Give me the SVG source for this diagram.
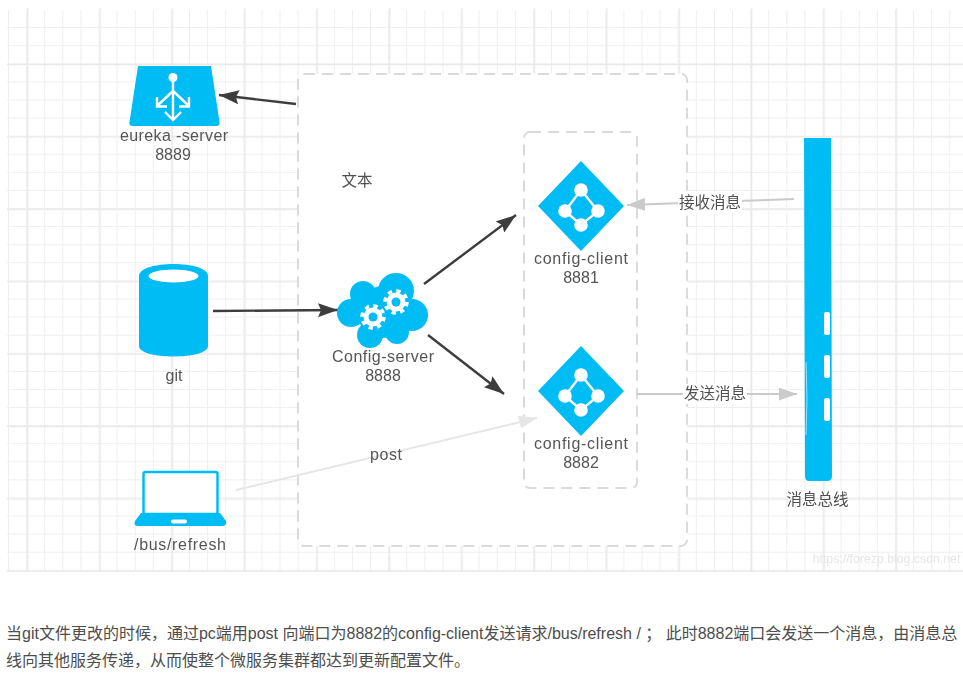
<svg xmlns="http://www.w3.org/2000/svg" width="963" height="673" viewBox="0 0 963 673">
<style>
.lbl{font-family:"Liberation Sans","Noto Sans CJK SC",sans-serif;font-size:16px;fill:#555;text-anchor:middle}
.cn{font-family:"Noto Sans CJK SC","Liberation Sans",sans-serif;font-size:15.5px;fill:#505050;text-anchor:middle}
.para{font-family:"Liberation Sans","Noto Sans CJK SC",sans-serif;font-size:16px;fill:#4d4d4d}
.ic{fill:#00bcf5}
.wl{fill:none;stroke:#fff;stroke-width:2.4}
.wf{fill:#fff}
.dash{fill:none;stroke:#dadada;stroke-width:2;stroke-dasharray:11 7}
.dk{stroke:#3d3d3d;stroke-width:2.4;fill:none}
</style>
<defs>
<filter id="soft" x="-5%" y="-5%" width="110%" height="110%"><feGaussianBlur stdDeviation="0.6"/></filter>
<marker id="ad" viewBox="0 0 10 10" refX="10" refY="5" markerWidth="20" markerHeight="14" markerUnits="userSpaceOnUse" orient="auto" preserveAspectRatio="none"><path d="M0 0L10 5L0 10L1.500 5Z" fill="#3d3d3d"/></marker>
<marker id="ag" viewBox="0 0 10 10" refX="10" refY="5" markerWidth="18" markerHeight="13" markerUnits="userSpaceOnUse" orient="auto" preserveAspectRatio="none"><path d="M0 0L10 5L0 10Z" fill="#cacaca"/></marker>
<marker id="al" viewBox="0 0 10 10" refX="10" refY="5" markerWidth="18" markerHeight="13" markerUnits="userSpaceOnUse" orient="auto" preserveAspectRatio="none"><path d="M0 0L10 5L0 10Z" fill="#e6e6e6"/></marker>
<pattern id="gmin" x="9" y="10" width="18.1" height="18.09" patternUnits="userSpaceOnUse"><path d="M17.6 0V18.09M0 17.6H18.1" fill="none" stroke="#eeeeee" stroke-width="1"/></pattern>
<pattern id="gmaj" x="27" y="64" width="72.4" height="72.4" patternUnits="userSpaceOnUse"><path d="M0.7 0V72.4M0 0.7H72.4" fill="none" stroke="#e9e9e9" stroke-width="1.300"/></pattern>
<g id="gear"><circle r="9.500" fill="#fff"/><circle r="11" fill="none" stroke="#fff" stroke-width="3.500" stroke-dasharray="4.320 4.320"/><circle r="4.500" fill="#00bcf5"/></g>
<g id="diamond">
<path class="ic" d="M0 -45L43 0L0 45L-43 0Z"/>
<path class="wl" d="M0 -16L-16 5L0 19L17 5Z"/>
<circle class="wf" cy="-16" r="6.800"/><circle class="wf" cx="-16" cy="5" r="6.800"/><circle class="wf" cx="17" cy="5" r="6.800"/><circle class="wf" cy="19" r="6.800"/>
</g>
</defs>
<rect width="963" height="673" fill="#fff"/>
<g id="grid">
<rect x="7" y="10" width="956" height="562" fill="url(#gmin)"/>
<rect x="7" y="8" width="956" height="564" fill="url(#gmaj)"/>
</g>
<g filter="url(#soft)">
<g id="server-box"><rect x="298" y="74" width="389" height="472" rx="6" fill="#fff"/><rect class="dash" x="298" y="74" width="389" height="472" rx="6"/></g>
<g id="client-box"><rect class="dash" x="524" y="132" width="113" height="356" rx="6"/></g>
<text class="cn" x="357" y="186">文本</text>
<g id="connectors">
<path class="dk" d="M296 104L219 95" marker-end="url(#ad)"/>
<path class="dk" d="M213 311L338 310" marker-end="url(#ad)"/>
<path class="dk" d="M424 284L516 215" marker-end="url(#ad)"/>
<path class="dk" d="M428 335L504 394" marker-end="url(#ad)"/>
<path d="M236 490L537 418" stroke="#e6e6e6" stroke-width="2" fill="none" marker-end="url(#al)"/>
<path d="M794 199L627 205" stroke="#cacaca" stroke-width="2" fill="none" marker-end="url(#ag)"/>
<path d="M637 394L797 394" stroke="#cacaca" stroke-width="2" fill="none" marker-end="url(#ag)"/>
<rect x="678" y="192" width="64" height="21" fill="#fff"/>
<rect x="683" y="384" width="64" height="20" fill="#fff"/>
<text class="cn" x="710" y="208">接收消息</text>
<text class="cn" x="715" y="399">发送消息</text>
<text class="lbl" x="386" y="460" textLength="32">post</text>
</g>
<g id="eureka-server">
<path class="ic" d="M138 66H211L219.500 122Q220 126 216 126H133Q128.500 126 129.500 122Z"/>
<circle class="wf" cx="173" cy="77.500" r="4.500"/>
<path class="wl" d="M173 78V119M173 91L157 106M173 91L189 106M157 97V106.500H167M189 97V106.500H179M165 112L173 120L181 112"/>
<text class="lbl" x="174" y="141" textLength="108">eureka -server</text>
<text class="lbl" x="173" y="160">8889</text>
</g>
<g id="git">
<path class="ic" d="M139 276C139 260 208 260 208 276V346C208 360 139 360 139 346Z"/>
<ellipse class="wf" cx="173.500" cy="276" rx="25" ry="6.500"/>
<text class="lbl" x="174" y="381">git</text>
</g>
<g id="config-server">
<g class="ic"><circle cx="383" cy="312" r="26"/><circle cx="396" cy="291" r="18"/><circle cx="363" cy="294" r="13"/><circle cx="351" cy="313" r="14"/><circle cx="412" cy="315" r="16"/><circle cx="370" cy="335" r="13"/><circle cx="397" cy="332" r="12"/></g>
<use href="#gear" x="373" y="317"/>
<use href="#gear" x="396" y="302"/>
<text class="lbl" x="383" y="362" textLength="102">Config-server</text>
<text class="lbl" x="383" y="381">8888</text>
</g>
<g id="config-client-8881">
<use href="#diamond" x="581" y="206"/>
<text class="lbl" x="581" y="264" textLength="94">config-client</text>
<text class="lbl" x="581" y="283">8881</text>
</g>
<g id="config-client-8882">
<use href="#diamond" x="581" y="391"/>
<text class="lbl" x="581" y="449" textLength="94">config-client</text>
<text class="lbl" x="581" y="468">8882</text>
</g>
<g id="message-bus">
<path class="ic" d="M804 138H831L832 476Q832 481 827 481H809Q805 481 805 476Z"/>
<rect class="wf" x="824" y="312" width="6" height="23" rx="2"/>
<rect class="wf" x="824" y="355" width="6" height="23" rx="2"/>
<rect class="wf" x="824" y="398" width="6" height="23" rx="2"/>
<path d="M806 362Q808 398 806 435" fill="none" stroke="#9fe3fa" stroke-width="1"/>
<text class="cn" x="817.500" y="505">消息总线</text>
</g>
<g id="bus-refresh">
<rect x="143.500" y="472" width="74" height="42" rx="2" fill="#fff" stroke="#00bcf5" stroke-width="2.500"/>
<path class="ic" d="M141 513H220L226 521Q227 526 222 526H138Q133 526 135 521Z"/>
<rect class="wf" x="171" y="519.500" width="16" height="4" rx="2"/>
<text class="lbl" x="180" y="550" textLength="92">/bus/refresh</text>
</g>
<text x="886.500" y="563" font-family="Liberation Sans,sans-serif" font-size="12.300px" fill="#e6e6e6" text-anchor="middle">https://forezp.blog.csdn.net</text>
</g>
<text class="para" x="6" y="639">当git文件更改的时候，通过pc端用post 向端口为8882的config-client发送请求/bus/refresh / ； 此时8882端口会发送一个消息，由消息总</text>
<text class="para" x="6" y="666">线向其他服务传递，从而使整个微服务集群都达到更新配置文件。</text>
</svg>
